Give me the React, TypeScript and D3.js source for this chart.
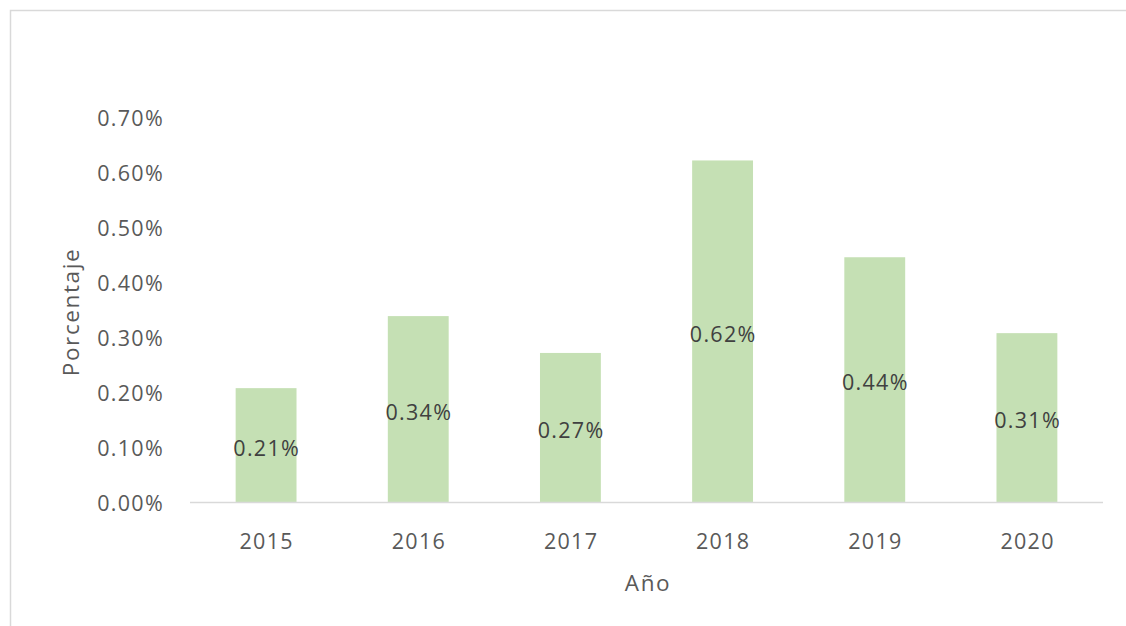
import React from "react";
import * as d3 from "d3";

const years = ["2015", "2016", "2017", "2018", "2019", "2020"];
const values = [0.207, 0.338, 0.271, 0.621, 0.445, 0.307];
const labels = ["0.21%", "0.34%", "0.27%", "0.62%", "0.44%", "0.31%"];
const yTicks = [0, 0.1, 0.2, 0.3, 0.4, 0.5, 0.6, 0.7];

const W = 1126;
const H = 626;
const left = 190;
const right = 1103;
const top = 117;
const bottom = 502;
const font = "'Open Sans', sans-serif";
const ls = 1.3;

export default function App() {
  const x = d3.scaleBand<string>().domain(years).range([left, right]).paddingInner(0.6).paddingOuter(0.3);
  const y = d3.scaleLinear().domain([0, 0.7]).range([bottom, top]);
  return (
    <svg width={W} height={H} style={{ position: "absolute", left: 0, top: 0 }}>
      <rect x={0} y={0} width={W} height={H} fill="#fff" />
      <rect x={10.5} y={10.5} width={1125} height={625} fill="none" stroke="#d9d9d9" strokeWidth={1.5} />
      {yTicks.map((t) => (
        <text key={t} x={164} y={y(t)} textAnchor="end" dominantBaseline="central" fontFamily={font} fontSize={21.5} letterSpacing={ls} fill="#595959">
          {d3.format(".2f")(t) + "%"}
        </text>
      ))}
      {years.map((yr, i) => (
        <g key={yr}>
          <rect x={x(yr)!} y={y(values[i])} width={x.bandwidth()} height={bottom - y(values[i])} fill="#c5e0b4" />
          <text x={x(yr)! + x.bandwidth() / 2 + ls / 2} y={(y(values[i]) + bottom) / 2 + 2} textAnchor="middle" dominantBaseline="central" fontFamily={font} fontSize={21.5} letterSpacing={ls} fill="#404040">
            {labels[i]}
          </text>
          <text x={x(yr)! + x.bandwidth() / 2 + ls / 2} y={540} textAnchor="middle" dominantBaseline="central" fontFamily={font} fontSize={21.5} letterSpacing={ls} fill="#595959">
            {yr}
          </text>
        </g>
      ))}
      <line x1={left} x2={right} y1={bottom + 0.5} y2={bottom + 0.5} stroke="#d9d9d9" strokeWidth={1.5} />
      <text x={648} y={582} textAnchor="middle" dominantBaseline="central" fontFamily={font} fontSize={22.5} letterSpacing={1.6} fill="#595959">Año</text>
      <text transform="translate(70,312) rotate(-90)" textAnchor="middle" dominantBaseline="central" fontFamily={font} fontSize={22.5} letterSpacing={1.6} fill="#595959">Porcentaje</text>
    </svg>
  );
}
